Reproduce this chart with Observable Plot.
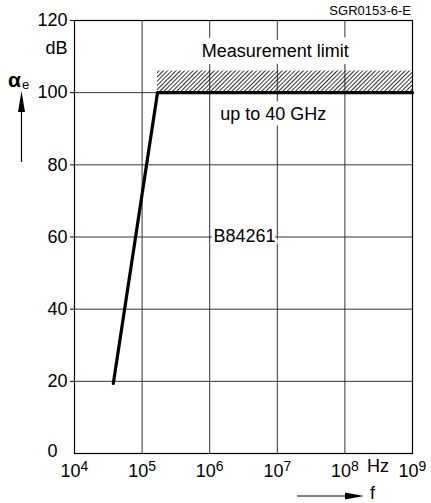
<!DOCTYPE html>
<html><head><meta charset="utf-8">
<script src="https://cdn.jsdelivr.net/npm/d3@7"></script>
<script src="https://cdn.jsdelivr.net/npm/@observablehq/plot@0.6"></script>
<style>
body{margin:0;background:#fff}
#chart svg{font-family:"Liberation Sans",Arial,sans-serif;display:block}
</style>
</head><body><div id="chart"></div>
<script>
// ---- data ----
const curveFreq = [3.75e4, 1.69e5, 1e9];
const curveDb = [19.4, 100, 100];
const limitFreq = [1.69e5, 1e9];
const limitDb = [100, 106];
const xTicks = [1e4, 1e5, 1e6, 1e7, 1e8, 1e9];
const xTickExp = ["4", "5", "6", "7", "8", "9"];
const yTicks = [0, 20, 40, 60, 80, 100, 120];
const yTickLabels = ["0", "20", "40", "60", "80", "100", "120"];
const labelTexts = ["Measurement limit", "up to 40 GHz", "B84261"];
const labelFreq = [10 ** 6.97, 10 ** 6.94, 10 ** 6.515];
const labelDb = [111.6, 94.1, 60.2];
const labelHalo = [14, 12, 6];

const curve = curveFreq.map((f, i) => ({f, db: curveDb[i]}));
const limit = [{x1: limitFreq[0], x2: limitFreq[1], y1: limitDb[0], y2: limitDb[1]}];
const labels = labelTexts.map((t, i) => ({t, f: labelFreq[i], db: labelDb[i], halo: labelHalo[i]}));

const plot = Plot.plot({
  width: 431, height: 503,
  marginLeft: 74, marginRight: 19, marginTop: 20, marginBottom: 50,
  style: {fontFamily: '"Liberation Sans", Arial, sans-serif', fontSize: "18px", color: "#000", background: "#fff", overflow: "visible"},
  x: {type: "log", domain: [1e4, 1e9]},
  y: {domain: [0, 120]},
  marks: [
    Plot.gridX(xTicks, {stroke: "#333", strokeOpacity: 1, strokeWidth: 1}),
    Plot.gridY(yTicks, {stroke: "#333", strokeOpacity: 1, strokeWidth: 1}),
    Plot.rect(limit, {x1: "x1", x2: "x2", y1: "y1", y2: "y2", fill: "url(#hatch)"}),
    ...labels.map(l => Plot.text([l], {x: "f", y: "db", text: "t", fontSize: 18, fill: "black", stroke: "white", strokeWidth: l.halo})),
    Plot.line(curve, {x: "f", y: "db", stroke: "black", strokeWidth: 3.2}),
    Plot.frame({stroke: "black", strokeWidth: 1.2}),
    Plot.axisY(yTicks.slice(1), {tickSize: 4, tickPadding: 3, fontSize: 18, tickFormat: d => yTickLabels[yTicks.indexOf(d)]}),
    Plot.text([yTicks[0]], {x: xTicks[0], y: d => d, text: d => yTickLabels[0], textAnchor: "end", dx: -17, dy: -2, fontSize: 18}),
    Plot.text(["dB"], {x: xTicks[0], y: () => 112.4, text: d => d, textAnchor: "end", dx: -7, fontSize: 18}),
    Plot.axisX(xTicks, {tickSize: 0, tickPadding: 11, fontSize: 18, tickFormat: d => "10^" + xTickExp[xTicks.indexOf(d)]}),
    Plot.text(["Hz"], {x: () => 10 ** 8.49, frameAnchor: "bottom", text: d => d, dy: 18, fontSize: 18})
  ]
});

const svg = d3.select(plot);
// hatch pattern
const defs = svg.insert("defs", ":first-child");
const pat = defs.append("pattern").attr("id", "hatch").attr("patternUnits", "userSpaceOnUse")
  .attr("width", 3).attr("height", 3).attr("patternTransform", "rotate(45)");
pat.append("line").attr("x1", 0.5).attr("y1", 0).attr("x2", 0.5).attr("y2", 3)
  .attr("stroke", "#000").attr("stroke-width", 0.8);

// superscript tick labels
svg.selectAll('[aria-label="x-axis tick label"] text').each(function () {
  const s = this.textContent.split("^");
  const t = d3.select(this);
  t.text(null);
  t.append("tspan").text(s[0]);
  t.append("tspan").attr("dy", "-0.45em").attr("font-size", "14px").text(s[1]);
});

// axis arrows & names
const g = svg.append("g").attr("text-anchor", "start");
g.append("line").attr("x1", 21.5).attr("x2", 21.5).attr("y1", 162).attr("y2", 108).attr("stroke", "#000").attr("stroke-width", 1.2);
g.append("path").attr("d", "M21.5,91 L18,112 L25,112 Z").attr("fill", "#000");
const ae = g.append("text").attr("x", 8).attr("y", 87).attr("font-size", 21).attr("font-weight", "bold");
ae.append("tspan").text("α");
ae.append("tspan").attr("font-size", 13).attr("font-weight", "normal").attr("dx", 1).attr("dy", 2).text("e");
g.append("line").attr("x1", 297).attr("x2", 350).attr("y1", 496).attr("y2", 496).attr("stroke", "#000").attr("stroke-width", 1.2);
g.append("path").attr("d", "M364,496 L345,492.5 L345,499.5 Z").attr("fill", "#000");
g.append("text").attr("x", 370).attr("y", 499).attr("font-size", 18).text("f");
g.append("text").attr("x", 411).attr("y", 15).attr("font-size", 13).attr("text-anchor", "end").text("SGR0153-6-E");

document.getElementById("chart").append(plot);
</script>
</body></html>
